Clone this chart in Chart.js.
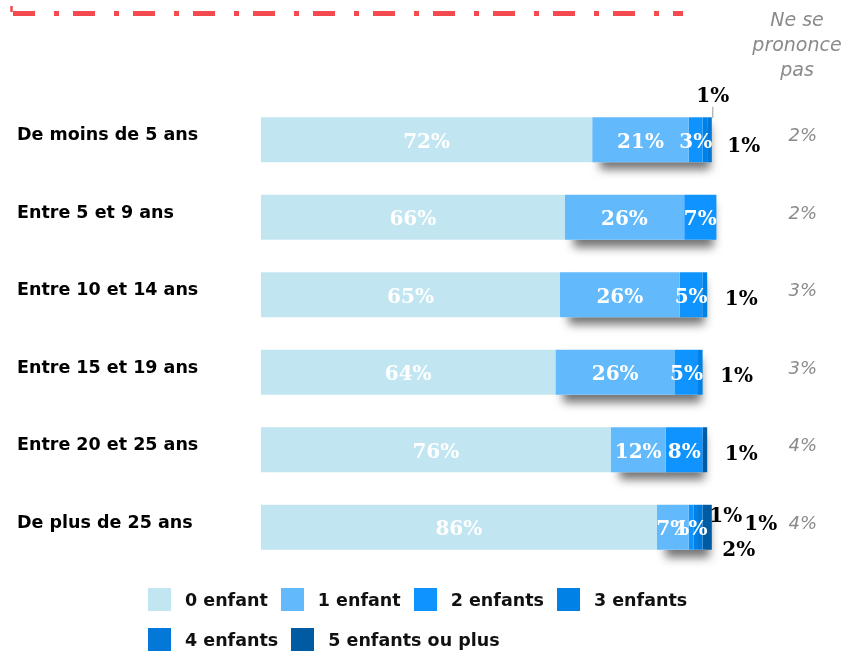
<!DOCTYPE html>
<html lang="fr">
<head>
<meta charset="utf-8">
<script src="https://cdn.jsdelivr.net/npm/chart.js@4.4.1/dist/chart.umd.min.js"></script>
<style>
  body { margin:0; background:#fff; }
  #wrap { position:relative; width:850px; height:651px; }
  #legend { position:absolute; left:148px; top:588px; width:560px; display:flex; flex-wrap:wrap; row-gap:17px;
    font:bold 17.5px "DejaVu Sans", sans-serif; color:#111; }
  #legend .item { display:flex; align-items:center; margin-right:13px; height:23px; }
  #legend .box { width:23px; height:23px; margin-right:14px; }
</style>
</head>
<body>
<div id="wrap">
  <canvas id="chart" width="850" height="651"></canvas>
  <div id="legend"></div>
</div>
<script>
const categories = ['De moins de 5 ans','Entre 5 et 9 ans','Entre 10 et 14 ans','Entre 15 et 19 ans','Entre 20 et 25 ans','De plus de 25 ans'];
const seriesNames = ['0 enfant','1 enfant','2 enfants','3 enfants','4 enfants','5 enfants ou plus'];
const zeroChild = [72,66,65,64,76,86];
const oneChild = [21,26,26,26,12,7];
const twoChildren = [3,7,5,5,8,1];
const threeChildren = [1,0,1,1,0,1];
const fourChildren = [1,0,0,0,0,1];
const fivePlus = [0,0,0,0,1,2];
const noAnswer = [2,2,3,3,4,4];
const noAnswerTitle = ['Ne se','prononce','pas'];

const colors = ['#C2E6F1','#62BAFC','#0F94FF','#0081E6','#0478D8','#005BA2'];
const allSeries = [zeroChild, oneChild, twoChildren, threeChildren, fourChildren, fivePlus];

// legend in html, two rows like the original
const legendEl = document.getElementById('legend');
seriesNames.forEach((name, i) => {
  const it = document.createElement('div');
  it.className = 'item';
  it.innerHTML = '<span class="box" style="background:' + colors[i] + '"></span><span>' + name + '</span>';
  legendEl.appendChild(it);
});

const decoPlugin = {
  id: 'deco',
  beforeDraw(chart) {
    const ctx = chart.ctx;
    ctx.save();
    ctx.strokeStyle = '#F24A4E';
    ctx.lineWidth = 5;
    ctx.setLineDash([22, 19, 5, 14]);
    ctx.beginPath();
    ctx.moveTo(13, 13.5);
    ctx.lineTo(683, 13.5);
    ctx.stroke();
    ctx.setLineDash([]);
    ctx.lineWidth = 2.5;
    ctx.beginPath();
    ctx.moveTo(11.5, 6);
    ctx.lineTo(11.5, 12);
    ctx.stroke();
    ctx.restore();
  },
  beforeDatasetsDraw(chart) {
    // shadow under the coloured part of each bar
    const ctx = chart.ctx;
    const first = chart.getDatasetMeta(0).data;
    ctx.save();
    ctx.shadowColor = 'rgba(0,0,0,0.55)';
    ctx.shadowBlur = 9;
    ctx.shadowOffsetX = 3;
    ctx.shadowOffsetY = 8;
    ctx.fillStyle = '#fff';
    first.forEach((el, i) => {
      let end = el.x;
      chart.data.datasets.forEach((ds, d) => {
        const e = chart.getDatasetMeta(d).data[i];
        if (ds.data[i] > 0) end = Math.max(end, e.x);
      });
      ctx.fillRect(el.x + 5, el.y - el.height / 2, end - el.x - 10, el.height);
    });
    ctx.restore();
  },
  afterDatasetsDraw(chart) {
    const ctx = chart.ctx;
    ctx.save();
    ctx.font = 'bold 20px "DejaVu Serif", serif';
    ctx.textBaseline = 'middle';
    ctx.textAlign = 'center';
    const n = chart.data.labels.length;
    for (let i = 0; i < n; i++) {
      let end = 0, y = 0;
      const outside = [];
      chart.data.datasets.forEach((ds, d) => {
        const el = chart.getDatasetMeta(d).data[i];
        const v = ds.data[i];
        y = el.y;
        if (!v) return;
        end = Math.max(end, el.x);
        if (d <= 2) {
          ctx.fillStyle = '#fff';
          ctx.fillText(v + '%', (el.x + el.base) / 2, el.y + 3);
        } else {
          outside.push(v + '%');
        }
      });
      ctx.fillStyle = '#000';
      let spots;
      if (outside.length === 1) spots = [[34, 5]];
      else if (outside.length === 2) spots = [[1, -43], [32, 7]];
      else spots = [[14, -10], [49, -2], [27, 24]];
      if (outside.length === 2) {
        ctx.strokeStyle = '#999';
        ctx.lineWidth = 1;
        ctx.beginPath();
        ctx.moveTo(end + 1, y - 33);
        ctx.lineTo(end + 1, y - 22);
        ctx.stroke();
      }
      outside.forEach((t, k) => ctx.fillText(t, end + spots[k][0], y + spots[k][1]));
    }
    // "ne se prononce pas" column
    const cx = chart.chartArea.right + 76;
    ctx.fillStyle = '#8A8A8A';
    ctx.font = 'oblique 19px "DejaVu Sans", sans-serif';
    noAnswerTitle.forEach((t, k) => ctx.fillText(t, cx, 21 + k * 25));
    ctx.font = 'oblique 18px "DejaVu Sans", sans-serif';
    ctx.textAlign = 'right';
    const ys = chart.scales.y;
    noAnswer.forEach((v, i) => ctx.fillText(v + '%', cx + 20, ys.getPixelForValue(i) - 3));
    ctx.restore();
  }
};

new Chart(document.getElementById('chart'), {
  type: 'bar',
  data: {
    labels: categories,
    datasets: allSeries.map((vals, i) => ({
      label: seriesNames[i],
      data: vals,
      backgroundColor: colors[i],
      barPercentage: 0.58,
      categoryPercentage: 1
    }))
  },
  options: {
    indexAxis: 'y',
    responsive: false,
    animation: false,
    layout: { padding: { top: 101, bottom: 85, left: 17, right: 129 } },
    plugins: { legend: { display: false }, tooltip: { enabled: false } },
    scales: {
      x: { stacked: true, min: 0, max: 100, display: false },
      y: {
        stacked: true,
        grid: { display: false },
        border: { display: false },
        afterFit(s) { s.width = 244; },
        ticks: { crossAlign: 'far', labelOffset: -4, color: '#000', font: { family: 'DejaVu Sans', weight: 'bold', size: 17.5 } }
      }
    }
  },
  plugins: [decoPlugin]
});
</script>
</body>
</html>
